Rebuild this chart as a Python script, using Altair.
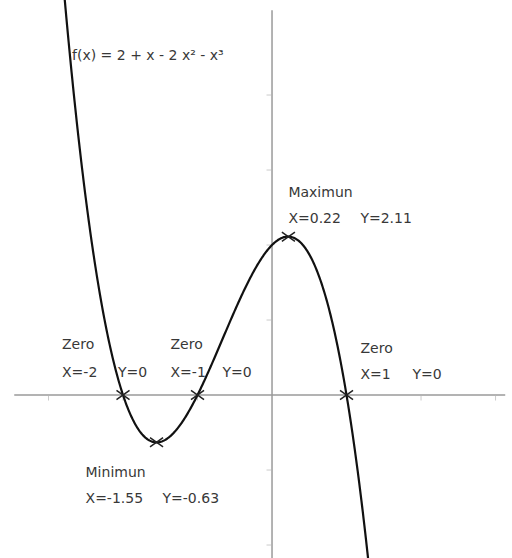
import altair as alt
import numpy as np
import pandas as pd

# f(x) = 2 + x - 2x^2 - x^3, coefficients in ascending powers
coeffs = [2, 1, -2, -1]
formula = "f(x) = 2 + x - 2 x\u00b2 - x\u00b3"

zeros_x = [-2, -1, 1]
max_x, max_y = 0.22, 2.11
min_x, min_y = -1.55, -0.63

x_ticks = [-3, -2, -1, 1, 2, 3]
y_ticks = [-2, -1, 1, 2, 3, 4]

X_DOMAIN = [-3.651, 3.221]
Y_DOMAIN = [-2.173, 5.267]

xs = np.round(np.arange(-2.95, 1.40, 0.01), 3)
curve = pd.DataFrame({"x": xs, "y": np.polynomial.polynomial.polyval(xs, coeffs)})

points = pd.DataFrame({
    "x": zeros_x + [max_x, min_x],
    "y": [0, 0, 0, max_y, min_y],
})

xsc = alt.Scale(domain=X_DOMAIN, nice=False, zero=False)
ysc = alt.Scale(domain=Y_DOMAIN, nice=False, zero=False)

AXIS_GREY = "#9a9a9a"
TEXT_COL = "#383838"
FONT = "DejaVu Sans"

x_axis = alt.Chart(pd.DataFrame({"a": [0]})).mark_rule(
    color=AXIS_GREY, strokeWidth=1.5
).encode(
    x=alt.datum(-3.46, scale=xsc, axis=None),
    x2=alt.datum(3.13),
    y=alt.datum(0, scale=ysc, axis=None),
)

y_axis = alt.Chart(pd.DataFrame({"a": [0]})).mark_rule(
    color=AXIS_GREY, strokeWidth=1.5
).encode(
    x=alt.datum(0, scale=xsc, axis=None),
    y=alt.datum(5.13, scale=ysc, axis=None),
    y2=alt.datum(-2.173),
)

xt = alt.Chart(pd.DataFrame({"x": x_ticks, "y": 0})).mark_tick(
    orient="vertical", size=5, thickness=1, yOffset=3, color="#b5b5b5"
).encode(
    x=alt.X("x:Q", scale=xsc, axis=None),
    y=alt.Y("y:Q", scale=ysc, axis=None),
)

yt = alt.Chart(pd.DataFrame({"x": 0, "y": y_ticks})).mark_tick(
    orient="horizontal", size=5, thickness=1, xOffset=-3, color="#b5b5b5"
).encode(
    x=alt.X("x:Q", scale=xsc, axis=None),
    y=alt.Y("y:Q", scale=ysc, axis=None),
)

line = alt.Chart(curve).mark_line(
    color="#111111", strokeWidth=2.2, clip=True
).encode(
    x=alt.X("x:Q", scale=xsc, axis=None),
    y=alt.Y("y:Q", scale=ysc, axis=None),
)

crosses = alt.Chart(points).mark_point(
    shape="M-1,-0.7L1,0.7M-1,0.7L1,-0.7",
    size=170, filled=False, stroke="#222222", strokeWidth=1.5, opacity=1,
).encode(
    x=alt.X("x:Q", scale=xsc, axis=None),
    y=alt.Y("y:Q", scale=ysc, axis=None),
)

def fmt(v):
    return str(int(v)) if float(v).is_integer() else f"{v:.2f}"

# (text, anchor x, anchor y, dx, dy) with offsets in pixels from the point
notes = [("Maximun", max_x, max_y, 0, -44),
         (f"X={fmt(max_x)}", max_x, max_y, 0, -18),
         (f"Y={fmt(max_y)}", max_x, max_y, 72, -18),
         ("Minimun", min_x, min_y, -71, 31),
         (f"X={fmt(min_x)}", min_x, min_y, -71, 57),
         (f"Y={fmt(min_y)}", min_x, min_y, 6, 57)]
zero_offsets = {-2: (-61, -5), -1: (-27, 25), 1: (14, 66)}
zero_dy = {-2: (-50, -22), -1: (-50, -22), 1: (-46, -20)}
for z in zeros_x:
    dx1, dx2 = zero_offsets[z]
    dy1, dy2 = zero_dy[z]
    notes += [("Zero", z, 0, dx1, dy1),
              (f"X={fmt(z)}", z, 0, dx1, dy2),
              ("Y=0", z, 0, dx2, dy2)]

layers = [x_axis, y_axis, xt, yt, line, crosses]
for txt, ax, ay, dx, dy in notes:
    layers.append(
        alt.Chart(pd.DataFrame({"x": [ax], "y": [ay], "t": [txt]})).mark_text(
            align="left", baseline="middle", dx=dx, dy=dy,
            font=FONT, fontSize=14, color=TEXT_COL,
        ).encode(
            x=alt.X("x:Q", scale=xsc, axis=None),
            y=alt.Y("y:Q", scale=ysc, axis=None),
            text="t:N",
        )
    )

title_txt = alt.Chart(pd.DataFrame({"t": [formula]})).mark_text(
    align="left", baseline="middle", font=FONT, fontSize=14, color=TEXT_COL,
).encode(x=alt.value(72), y=alt.value(56), text="t:N")
layers.append(title_txt)

chart = alt.layer(*layers).properties(
    width=512, height=558, padding=0, autosize=alt.AutoSizeParams(type="none"),
    background="white",
).configure_view(stroke=None)

chart.save("out.html", embed_options={"renderer": "svg", "actions": False})
